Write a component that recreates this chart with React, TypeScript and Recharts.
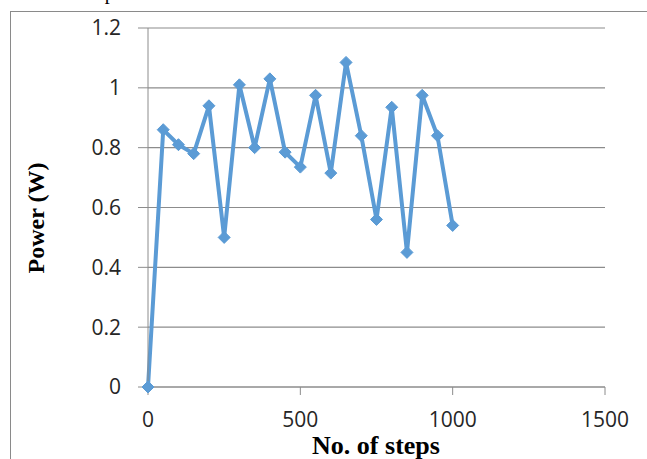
import { LineChart, Line, XAxis, YAxis, CartesianGrid } from 'recharts'

const steps = [0, 50, 100, 150, 200, 250, 300, 350, 400, 450, 500, 550, 600, 650, 700, 750, 800, 850, 900, 950, 1000]
const power = [0, 0.86, 0.81, 0.78, 0.94, 0.5, 1.01, 0.8, 1.03, 0.785, 0.735, 0.975, 0.715, 1.085, 0.84, 0.56, 0.935, 0.45, 0.975, 0.84, 0.54]
const xTicks = [0, 500, 1000, 1500]
const yTicks = [0, 0.2, 0.4, 0.6, 0.8, 1, 1.2]

const data = steps.map((s, i) => ({ step: s, power: power[i] }))

const serif = '"Liberation Serif", "Times New Roman", serif'
const sans = '"Open Sans", Lato, sans-serif'

function Diamond(props: any) {
  const { cx, cy } = props
  if (cx == null || cy == null) return null
  const r = 6
  return (
    <polygon
      points={`${cx},${cy - r} ${cx + r},${cy} ${cx},${cy + r} ${cx - r},${cy}`}
      fill="#5b9bd5"
      stroke="#5b9bd5"
    />
  )
}

export default function App() {
  return (
    <div
      style={{
        position: 'fixed',
        top: 0,
        left: 0,
        width: 647,
        height: 459,
        overflow: 'hidden',
        background: '#fff',
      }}
    >
      {/* caption of the page above, only its lower edge shows */}
      <div
        style={{
          position: 'absolute',
          top: -18,
          left: 41,
          fontFamily: serif,
          fontSize: 20,
          lineHeight: '20px',
          whiteSpace: 'nowrap',
          color: '#000',
        }}
      >
        are compared to model 1.
      </div>
      <div
        style={{
          position: 'absolute',
          top: 11,
          left: 10,
          width: 660,
          height: 470,
          border: '1px solid #8a8a8a',
        }}
      />
      <div
        style={{
          position: 'absolute',
          left: 36,
          top: 218,
          transform: 'translate(-50%, -50%) rotate(-90deg)',
          fontFamily: serif,
          fontWeight: 'bold',
          fontSize: 24,
          whiteSpace: 'nowrap',
          color: '#000',
        }}
      >
        Power (W)
      </div>
      <div
        style={{
          position: 'absolute',
          left: 376,
          top: 446,
          transform: 'translate(-50%, -50%)',
          fontFamily: serif,
          fontWeight: 'bold',
          fontSize: 26,
          whiteSpace: 'nowrap',
          color: '#000',
        }}
      >
        No. of steps
      </div>
      <div style={{ position: 'absolute', left: 0, top: 0 }}>
        <LineChart
          width={647}
          height={459}
          data={data}
          margin={{ top: 28, right: 42, left: 0, bottom: 0 }}
        >
          <CartesianGrid vertical={false} stroke="#8c8c8c" strokeWidth={1.2} />
          <XAxis
            dataKey="step"
            type="number"
            domain={[0, 1500]}
            ticks={xTicks}
            height={72}
            tickSize={8}
            tickMargin={17}
            stroke="#8c8c8c"
            tick={{ fill: '#262626', fontSize: 21, fontFamily: sans }}
          />
          <YAxis
            type="number"
            domain={[0, 1.2]}
            ticks={yTicks}
            width={148}
            tickSize={10}
            tickMargin={17}
            stroke="#8c8c8c"
            tick={{ fill: '#262626', fontSize: 21, fontFamily: sans }}
          />
          <Line
            dataKey="power"
            stroke="#5b9bd5"
            strokeWidth={4}
            dot={<Diamond />}
            activeDot={false}
            isAnimationActive={false}
          />
        </LineChart>
      </div>
    </div>
  )
}
